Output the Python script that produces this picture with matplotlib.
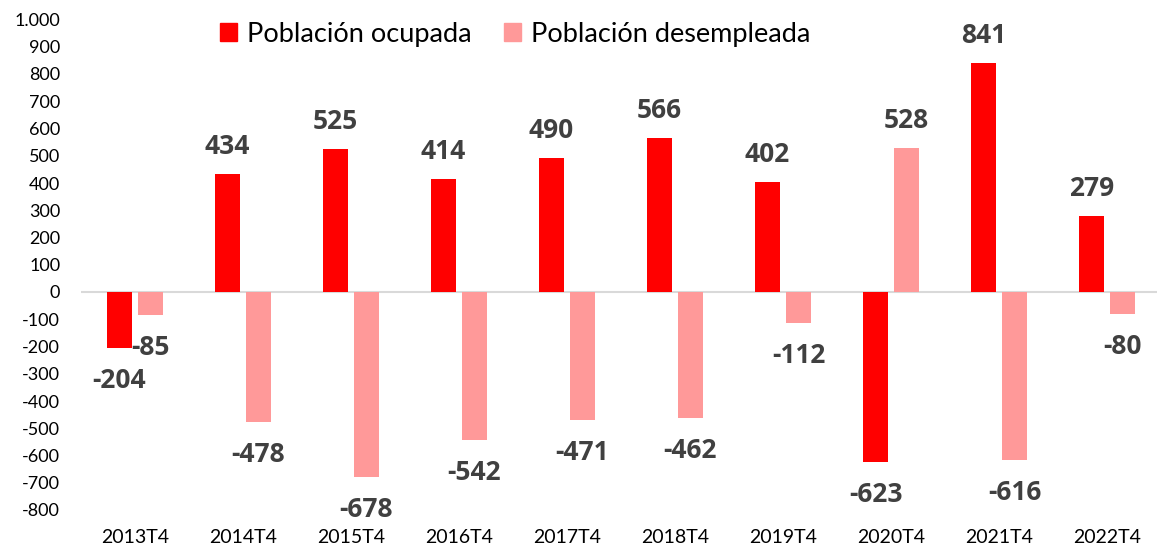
import matplotlib
matplotlib.use("Agg")
import matplotlib.pyplot as plt
from matplotlib.patches import Rectangle
from matplotlib.ticker import FuncFormatter
import numpy as np

categories = ["2013T4", "2014T4", "2015T4", "2016T4", "2017T4",
              "2018T4", "2019T4", "2020T4", "2021T4", "2022T4"]
ocupada = [-204, 434, 525, 414, 490, 566, 402, -623, 841, 279]
desempleada = [-85, -478, -678, -542, -471, -462, -112, 528, -616, -80]
series_names = ["Población ocupada", "Población desempleada"]

RED = "#FF0000"
PINK = "#FF9999"
LABEL = "#404040"
FONT = "Lato"
LFONT = "Open Sans"

W, H = 1157, 551
fig = plt.figure(figsize=(W / 100, H / 100), dpi=100)
left = 81 / W
width = 1080 / W
bottom = (H - 510) / H
height = (510 - 19.5) / H
ax = fig.add_axes([left, bottom, width, height])

x = np.arange(len(categories))
bw = 0.23
off = 0.143
b1 = ax.bar(x - off, ocupada, bw, color=RED, edgecolor="none", zorder=2)
b2 = ax.bar(x + off, desempleada, bw, color=PINK, edgecolor="none", zorder=2)

ax.set_xlim(-0.5, len(categories) - 0.5)
ax.set_ylim(-800, 1000)
ax.set_yticks(np.arange(-800, 1001, 100))
ax.yaxis.set_major_formatter(FuncFormatter(lambda v, p: f"{int(v):,}".replace(",", ".")))
ax.set_xticks(x)
ax.set_xticklabels(categories)
for s in ax.spines.values():
    s.set_visible(False)
ax.tick_params(axis="both", length=0, colors="#000000")
ax.tick_params(axis="y", pad=15, labelsize=13)
ax.tick_params(axis="x", pad=14, labelsize=14)
for lab in ax.get_xticklabels() + ax.get_yticklabels():
    lab.set_family(FONT)
ax.axhline(0, color="#D9D9D9", lw=1.5, zorder=1)

px = 0.72
for bars, vals in ((b1, ocupada), (b2, desempleada)):
    for rect, v in zip(bars, vals):
        cx = rect.get_x() + rect.get_width() / 2
        if v >= 0:
            dy = 20 * px
        else:
            dy = -40 * px
        ax.annotate(str(v), (cx, v), xytext=(0, dy), textcoords="offset points",
                    ha="center", va="baseline", fontsize=19, fontweight="bold",
                    color=LABEL, family=LFONT)

handles = [Rectangle((0, 0), 1, 1, color=RED), Rectangle((0, 0), 1, 1, color=PINK)]
fig.legend(handles, series_names, loc="center", bbox_to_anchor=(515 / W, 1 - 34 / H),
           ncol=2, frameon=False, prop={"family": FONT, "size": 19.5},
           handlelength=0.65, handleheight=0.65, handletextpad=0.35, columnspacing=1.2)

fig.savefig("out.png", dpi=100)
